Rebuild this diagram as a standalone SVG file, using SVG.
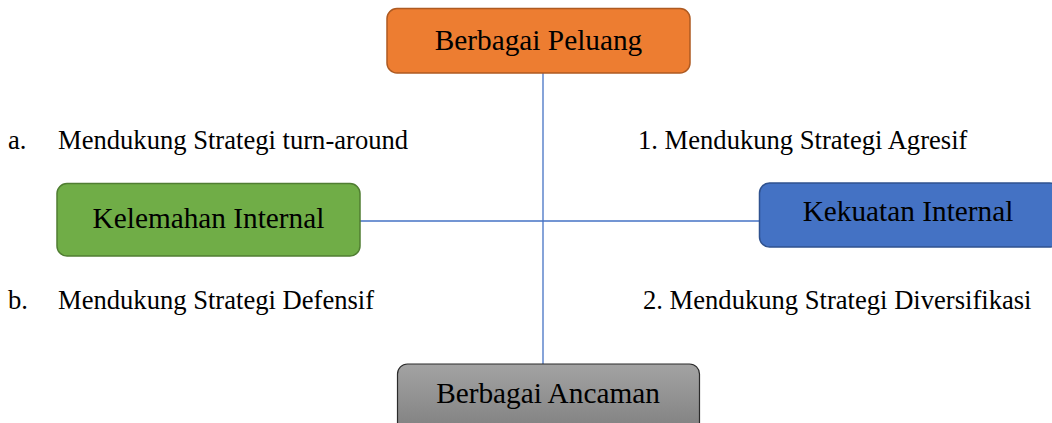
<svg xmlns="http://www.w3.org/2000/svg" width="1052" height="423" viewBox="0 0 1052 423">
<style>
text{font-family:"Liberation Serif","Times New Roman",serif;fill:#000}
.lbl{font-size:26.6px}
.box{font-size:29.3px;text-anchor:middle}
.conn{stroke:#4472C4;stroke-width:1.3;fill:none}
</style>
<defs>
<linearGradient id="gray" x1="0" y1="0" x2="0" y2="1">
<stop offset="0" stop-color="#A3A3A3"/>
<stop offset="1" stop-color="#7F7F7F"/>
</linearGradient>
</defs>
<rect width="1052" height="423" fill="#fff"/>
<g id="connectors">
<line class="conn" x1="543" y1="73" x2="543" y2="364"/>
<line class="conn" x1="360" y1="221" x2="760" y2="221"/>
</g>
<g id="peluang">
<rect x="387" y="8.5" width="303" height="64.5" rx="10" fill="#ED7D31" stroke="#AE5A21" stroke-width="1.5"/>
<text class="box" x="538.5" y="50">Berbagai Peluang</text>
</g>
<g id="kelemahan">
<rect x="57" y="183.5" width="303" height="72.5" rx="10" fill="#70AD47" stroke="#507E32" stroke-width="1.5"/>
<text class="box" x="208.5" y="228">Kelemahan Internal</text>
</g>
<g id="kekuatan">
<rect x="759.5" y="183" width="300" height="64" rx="10" fill="#4472C4" stroke="#2F528F" stroke-width="1.5"/>
<text class="box" x="908" y="221">Kekuatan Internal</text>
</g>
<g id="ancaman">
<rect x="397.5" y="364" width="302" height="70" rx="10" fill="url(#gray)" stroke="#2B2B2B" stroke-width="1.2"/>
<text class="box" x="548" y="403">Berbagai Ancaman</text>
</g>
<g id="labels">
<text class="lbl" x="8" y="149">a.</text>
<text class="lbl" x="58" y="149">Mendukung Strategi turn-around</text>
<text class="lbl" x="638" y="149">1. Mendukung Strategi Agresif</text>
<text class="lbl" x="8" y="309">b.</text>
<text class="lbl" x="58" y="309">Mendukung Strategi Defensif</text>
<text class="lbl" x="643" y="309">2. Mendukung Strategi Diversifikasi</text>
</g>
</svg>
